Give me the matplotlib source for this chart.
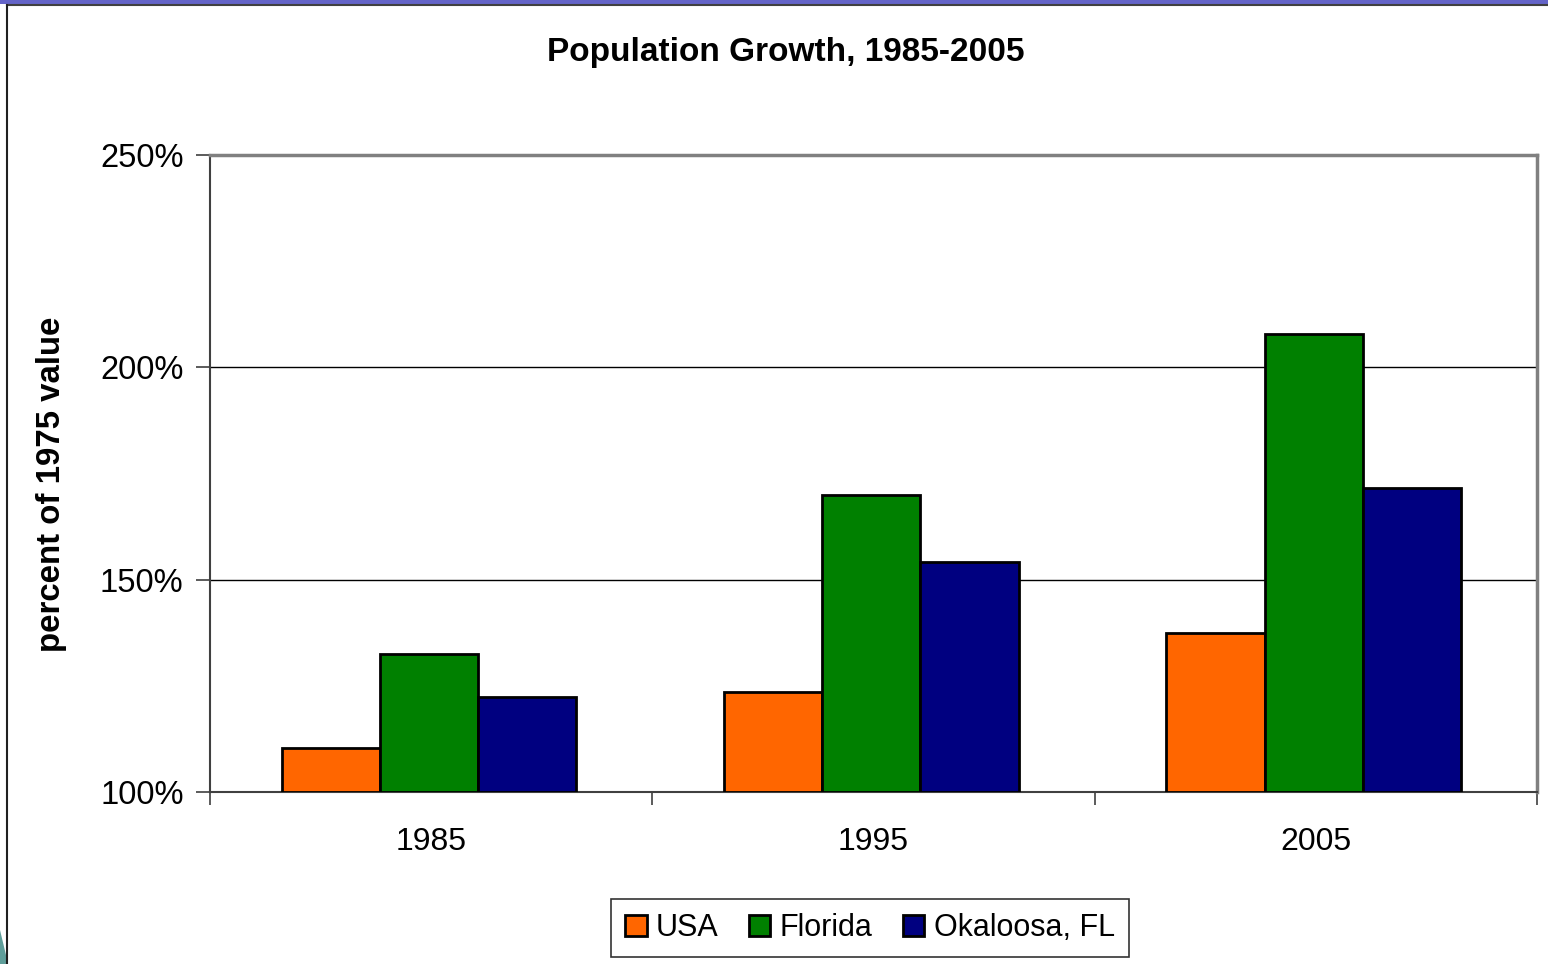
import matplotlib
matplotlib.use("Agg")
import matplotlib.pyplot as plt
import numpy as np
from matplotlib.patches import Rectangle, Polygon
from matplotlib.lines import Line2D

plt.rcParams['font.family'] = ['Liberation Sans', 'DejaVu Sans']

categories = ["1985", "1995", "2005"]
series_names = ["USA", "Florida", "Okaloosa, FL"]
usa = [110.4, 123.5, 137.4]
florida = [132.5, 169.9, 207.8]
okaloosa = [122.4, 154.2, 171.6]
colors = ["#FF6600", "#008000", "#000080"]
yticks = [100, 150, 200, 250]
ytick_labels = ["100%", "150%", "200%", "250%"]

fig = plt.figure(figsize=(15.48, 9.64), dpi=100)
ax = fig.add_axes([210/1548, 1-792/964, (1537-210)/1548, (792-155)/964])

x = np.arange(len(categories))
w = 0.222
for i, (vals, c, name) in enumerate(zip([usa, florida, okaloosa], colors, series_names)):
    ax.bar(x - 0.005 + (i-1)*w, np.array(vals) - 100, width=w, bottom=100, color=c,
           edgecolor="black", linewidth=2, label=name, zorder=3)

ax.set_xlim(-0.5, 2.5)
ax.set_ylim(100, 250)
ax.set_yticks(yticks)
ax.set_yticklabels(ytick_labels, fontsize=23.5)
for yv in [150, 200]:
    ax.axhline(yv, color="black", linewidth=1, zorder=1)

ax.set_xticks([-0.5, 0.5, 1.5, 2.5])
ax.set_xticklabels([])
ax.set_xticks(x, minor=True)
ax.set_xticklabels(categories, minor=True, fontsize=23)
ax.tick_params(axis='x', which='minor', length=0, pad=25)
ax.tick_params(axis='x', which='major', length=9, width=1.2, color="#404040", direction='out')
ax.tick_params(axis='y', length=10, width=1.2, color="#404040", pad=9)

for s in ['top', 'right']:
    ax.spines[s].set_color("#808080")
    ax.spines[s].set_linewidth(2.5)
ax.spines['left'].set_color("#404040")
ax.spines['left'].set_linewidth(1.5)
ax.spines['bottom'].set_color("#404040")
ax.spines['bottom'].set_linewidth(1.5)

fig.text(786/1548, 1-52/964, "Population Growth, 1985-2005", fontsize=24, fontweight='bold',
         ha='center', va='center')
fig.text(52/1548, 1-484/964, "percent of 1975 value", fontsize=23.8, fontweight='bold',
         rotation=90, ha='center', va='center')

leg = fig.legend(loc='center', bbox_to_anchor=(870/1548, 1-928/964), ncol=3, fontsize=22,
                 frameon=True, fancybox=False, edgecolor='black', handlelength=0.7,
                 handleheight=0.7, handletextpad=0.3, columnspacing=1.0, borderpad=0.45)
leg.get_frame().set_linewidth(1.2)

# slide decorations
fig.patches.append(Rectangle((0, 1-4/964), 1, 4/964, transform=fig.transFigure,
                             facecolor="#6464c8", edgecolor='none'))
fig.lines.append(Line2D([7/1548, 1], [1-5/964, 1-5/964], transform=fig.transFigure,
                        color="#404040", linewidth=1.5))
fig.lines.append(Line2D([7/1548, 7/1548], [0, 1-5/964], transform=fig.transFigure,
                        color="#202020", linewidth=1.5))
fig.patches.append(Polygon([(0, 1-930/964), (6/1548, 1-955/964), (6/1548, 0), (0, 0)],
                           closed=True, transform=fig.transFigure, facecolor="#5f9e9a",
                           edgecolor='none'))

fig.savefig("out.png", dpi=100)
